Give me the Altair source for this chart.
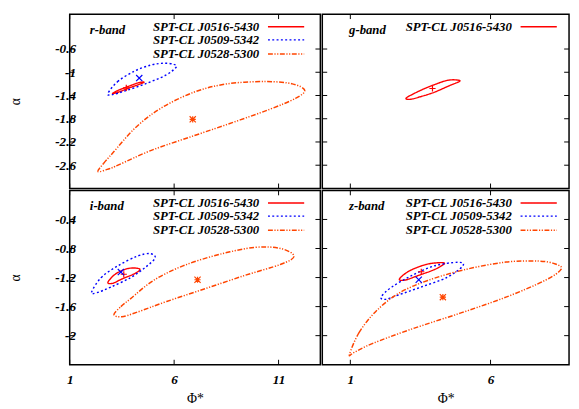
import altair as alt
import pandas as pd

FONT = "Liberation Serif"
CLUSTERS = ["SPT-CL J0516-5430", "SPT-CL J0509-5342", "SPT-CL J0528-5300"]
COLORS = ["#ff0000", "#0000ff", "#ff4500"]
DASHES = [[1, 0], [2, 2.4], [5, 1.6, 1.2, 1.6, 1.2, 1.6]]
WIDTHS = [1.4, 1.5, 1.0]
SHAPES = [
    "M-1,0L1,0M0,-1L0,1",
    "M-1,-1L1,1M-1,1L1,-1",
    "M-1,0L1,0M0,-1L0,1M-1,-1L1,1M-1,1L1,-1",
]

# ---------------- r-band ----------------
r_0516_phi = [3.05, 3.30, 3.80, 4.30, 4.56, 4.35, 3.85, 3.35]
r_0516_alpha = [-1.365, -1.315, -1.245, -1.18, -1.17, -1.205, -1.27, -1.34]
r_0509_phi = [2.83, 3.30, 4.10, 4.90, 5.50, 5.95, 6.10, 5.60, 4.65, 3.70, 3.05]
r_0509_alpha = [-1.365, -1.16, -0.98, -0.875, -0.845, -0.86, -0.91, -1.05, -1.195, -1.315, -1.385]
r_0528_phi = [2.36, 2.62, 3.06, 4.16, 5.41, 6.97, 8.53, 10.40, 11.66, 12.25, 11.81, 10.56, 8.84, 6.97, 4.94, 3.37, 2.90]
r_0528_alpha = [-2.71, -2.57, -2.39, -1.95, -1.61, -1.34, -1.20, -1.16, -1.20, -1.31, -1.45, -1.64, -1.86, -2.09, -2.34, -2.59, -2.66]
r_center_phi = [3.71, 4.33, 6.89]
r_center_alpha = [-1.27, -1.10, -1.81]

# ---------------- g-band ----------------
g_0516_phi = [3.00, 3.47, 3.99, 4.51, 4.91, 4.51, 3.99, 3.47, 3.12]
g_0516_alpha = [-1.44, -1.32, -1.215, -1.135, -1.148, -1.235, -1.345, -1.425, -1.466]
g_center_phi = [3.93]
g_center_alpha = [-1.28]

# ---------------- i-band ----------------
i_0516_phi = [2.83, 3.20, 3.80, 4.35, 4.15, 3.50, 3.05]
i_0516_alpha = [-1.265, -1.15, -1.075, -1.08, -1.14, -1.22, -1.28]
i_0509_phi = [2.05, 2.51, 3.30, 4.23, 4.85, 5.09, 4.62, 3.92, 2.98, 2.28]
i_0509_alpha = [-1.40, -1.20, -1.04, -0.906, -0.87, -0.93, -1.06, -1.20, -1.33, -1.41]
i_0528_phi = [3.12, 3.45, 3.92, 5.01, 6.42, 8.14, 9.86, 11.11, 11.74, 11.11, 9.39, 7.52, 5.64, 4.20, 3.50]
i_0528_alpha = [-1.71, -1.60, -1.49, -1.24, -1.04, -0.883, -0.785, -0.80, -0.906, -1.017, -1.17, -1.35, -1.53, -1.68, -1.74]
i_center_phi = [3.59, 3.45, 7.12]
i_center_alpha = [-1.155, -1.125, -1.23]

# ---------------- z-band ----------------
z_0516_phi = [2.75, 3.10, 3.70, 4.20, 4.35, 4.00, 3.40, 2.95]
z_0516_alpha = [-1.22, -1.11, -1.02, -0.995, -1.01, -1.09, -1.175, -1.235]
z_0509_phi = [2.10, 2.48, 3.18, 3.99, 4.85, 5.01, 4.45, 3.53, 2.71, 2.25]
z_0509_alpha = [-1.466, -1.33, -1.175, -1.04, -0.99, -1.04, -1.197, -1.33, -1.44, -1.50]
z_0528_phi = [0.97, 1.31, 1.90, 2.71, 3.76, 5.15, 6.55, 7.71, 8.29, 8.52, 7.94, 6.55, 4.92, 3.18, 1.78, 1.14]
z_0528_alpha = [-2.26, -1.96, -1.67, -1.42, -1.24, -1.085, -0.987, -0.973, -1.01, -1.085, -1.24, -1.47, -1.69, -1.91, -2.11, -2.23]
z_center_phi = [3.53, 3.44, 4.30]
z_center_alpha = [-1.12, -1.23, -1.47]

LEFT_XTICKS = [1, 6, 11]
RIGHT_XTICKS = [1, 6]
TOP_YTICKS = [-2.6, -2.2, -1.8, -1.4, -1, -0.6]
BOT_YTICKS = [-2, -1.6, -1.2, -0.8, -0.4]

color_scale = alt.Scale(domain=CLUSTERS, range=COLORS)
dash_scale = alt.Scale(domain=CLUSTERS, range=DASHES)
width_scale = alt.Scale(domain=CLUSTERS, range=WIDTHS)
shape_scale = alt.Scale(domain=CLUSTERS, range=SHAPES)

LABEL_EXPR = "datum.value < 0 ? '-' + format(-datum.value, '~g') : format(datum.value, '~g')"


def panel(label, label_x, contours, cphi, calpha, xdom, ydom, xticks, yticks,
          w, h, show_x, show_y):
    rows = []
    for name, phis, alphas in contours:
        for k, (p, a) in enumerate(zip(phis, alphas)):
            rows.append({"cluster": name, "i": k, "phi": p, "alpha": a})
    df = pd.DataFrame(rows)
    names = [c[0] for c in contours]
    cdf = pd.DataFrame({"cluster": names, "phi": cphi, "alpha": calpha})

    xs = alt.Scale(domain=xdom, nice=False, zero=False)
    ys = alt.Scale(domain=ydom, nice=False, zero=False)
    if show_x:
        xaxis = alt.Axis(values=xticks, title="Φ*", labelExpr=LABEL_EXPR, ticks=False, tickSize=0,
                         domain=False, grid=False, labelFlush=False, labelPadding=8,
                         labelFont=FONT, labelFontSize=13.5, labelFontStyle="italic",
                         labelFontWeight="bold", labelColor="black",
                         titleFont=FONT, titleFontSize=14, titleFontWeight="normal",
                         titleColor="black", titlePadding=6)
    else:
        xaxis = None
    if show_y:
        yaxis = alt.Axis(values=yticks, title="α", labelExpr=LABEL_EXPR, ticks=False, tickSize=0,
                         domain=False, grid=False, labelPadding=1, labelOverlap=False,
                         offset=-7,
                         labelFont=FONT, labelFontSize=13.5, labelFontStyle="italic",
                         labelFontWeight="bold", labelColor="black",
                         titleFont=FONT, titleFontSize=14, titleFontWeight="normal",
                         titleColor="black", titleX=-55, titleY=h / 2)
    else:
        yaxis = None

    X = lambda f: alt.X(f, scale=xs, axis=xaxis, title="Φ*")
    Y = lambda f: alt.Y(f, scale=ys, axis=yaxis, title="α")

    lines = alt.Chart(df).mark_line(interpolate="cardinal-closed", clip=True).encode(
        x=X("phi:Q"),
        y=Y("alpha:Q"),
        color=alt.Color("cluster:N", scale=color_scale, legend=None),
        strokeDash=alt.StrokeDash("cluster:N", scale=dash_scale, legend=None),
        strokeWidth=alt.StrokeWidth("cluster:N", scale=width_scale, legend=None),
        detail="cluster:N",
        order="i:Q",
    )
    marks = alt.Chart(cdf).mark_point(filled=False, size=40, strokeWidth=1.2, opacity=1).encode(
        x=X("phi:Q"),
        y=Y("alpha:Q"),
        color=alt.Color("cluster:N", scale=color_scale, legend=None),
        shape=alt.Shape("cluster:N", scale=shape_scale, legend=None),
    )
    layers = [lines, marks]

    # inward ticks on all four sides
    ydf = pd.DataFrame({"alpha": yticks})
    xdf = pd.DataFrame({"phi": [t for t in xticks if xdom[0] <= t <= xdom[1]]})
    for x0, x1 in [(0, 5), (w - 5, w)]:
        layers.append(alt.Chart(ydf).mark_rule(color="black", strokeWidth=1).encode(
            y=Y("alpha:Q"), x=alt.value(x0), x2=alt.value(x1)))
    for y0, y1 in [(0, 5), (h - 5, h)]:
        layers.append(alt.Chart(xdf).mark_rule(color="black", strokeWidth=1).encode(
            x=X("phi:Q"), y=alt.value(y0), y2=alt.value(y1)))

    # panel label
    layers.append(alt.Chart(pd.DataFrame({"t": [label]})).mark_text(
        align="left", baseline="middle", font=FONT, fontSize=13, fontStyle="italic",
        fontWeight="bold", color="black").encode(
        x=alt.value(label_x), y=alt.value(16.5), text="t:N"))

    # legend
    leg_y = [12.8, 26.3, 40.6]
    for k, name in enumerate(names):
        ldf = pd.DataFrame({"cluster": [name]})
        layers.append(alt.Chart(ldf).mark_text(
            align="right", baseline="middle", font=FONT, fontSize=13, fontStyle="italic",
            fontWeight="bold", color="black").encode(
            x=alt.value(193.5), y=alt.value(leg_y[k]), text="cluster:N"))
        layers.append(alt.Chart(ldf).mark_rule().encode(
            x=alt.value(202.5), x2=alt.value(239.5), y=alt.value(leg_y[k]),
            color=alt.Color("cluster:N", scale=color_scale, legend=None),
            strokeDash=alt.StrokeDash("cluster:N", scale=dash_scale, legend=None),
            strokeWidth=alt.StrokeWidth("cluster:N", scale=width_scale, legend=None)))

    return alt.layer(*layers).properties(width=w, height=h)


LW, RW, H = 256, 252, 178

r = panel("r-band", 20.6,
          [(CLUSTERS[0], r_0516_phi, r_0516_alpha),
           (CLUSTERS[1], r_0509_phi, r_0509_alpha),
           (CLUSTERS[2], r_0528_phi, r_0528_alpha)],
          r_center_phi, r_center_alpha, [1, 13], [-3, 0], LEFT_XTICKS, TOP_YTICKS,
          LW, H, False, True)
g = panel("g-band", 27.3,
          [(CLUSTERS[0], g_0516_phi, g_0516_alpha)],
          g_center_phi, g_center_alpha, [0, 8.8], [-3, 0], RIGHT_XTICKS, TOP_YTICKS,
          RW, H, False, False)
i = panel("i-band", 20.6,
          [(CLUSTERS[0], i_0516_phi, i_0516_alpha),
           (CLUSTERS[1], i_0509_phi, i_0509_alpha),
           (CLUSTERS[2], i_0528_phi, i_0528_alpha)],
          i_center_phi, i_center_alpha, [1, 13], [-2.4, 0], LEFT_XTICKS, BOT_YTICKS,
          LW, H, True, True)
z = panel("z-band", 27.3,
          [(CLUSTERS[0], z_0516_phi, z_0516_alpha),
           (CLUSTERS[1], z_0509_phi, z_0509_alpha),
           (CLUSTERS[2], z_0528_phi, z_0528_alpha)],
          z_center_phi, z_center_alpha, [0, 8.8], [-2.4, 0], RIGHT_XTICKS, BOT_YTICKS,
          RW, H, True, False)

chart = alt.concat(r, g, i, z, columns=2, spacing=2, bounds="flush").properties(
    padding={"left": 0, "top": 0, "right": 0, "bottom": 0}
).configure(background="white").configure_view(stroke="black", strokeWidth=1.5)

chart.save("out.html", embed_options={"renderer": "svg", "actions": False})
